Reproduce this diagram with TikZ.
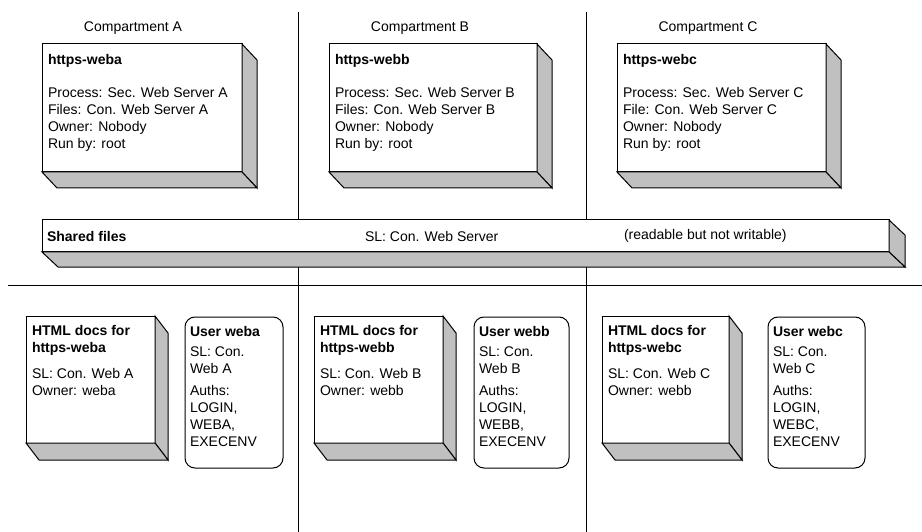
\documentclass[tikz,border=0pt]{standalone}
\usepackage{fontspec}
\setmainfont{Liberation Sans}
\definecolor{facegray}{RGB}{192,192,192}
\tikzset{
  every node/.style={font=\fontsize{14}{17}\selectfont, inner sep=0pt, outer sep=0pt},
  rule/.style={line width=1pt},
  frontface/.style={draw, line width=1pt, fill=white, rectangle, anchor=north west},
  depthface/.style={draw, line width=1pt, fill=facegray, line join=miter},
  blocktext/.style={anchor=north west, align=left},
  userbox/.style={draw, line width=1pt, fill=white, rounded corners=10pt, rectangle, anchor=north west},
}
% #1 name, #2 x, #3 y, #4 width, #5 height, #6 dx, #7 dy
\newcommand{\boxthreed}[7]{%
  \node[frontface, minimum width=#4pt, minimum height=#5pt] (#1) at (#2,#3) {};
  \draw[depthface] (#1.north east) -- ++(#6,#7) -- ([shift={(#6,#7)}]#1.south east) -- (#1.south east) -- cycle;
  \draw[depthface] (#1.south west) -- ([shift={(#6,#7)}]#1.south west) -- ([shift={(#6,#7)}]#1.south east) -- (#1.south east) -- cycle;
}
\begin{document}
\begin{tikzpicture}[x=1pt,y=-1pt]
\useasboundingbox (0,0) rectangle (922,532);
% separator lines
\coordinate (v1t) at (298,12); \coordinate (v1b) at (298,532);
\coordinate (v2t) at (586,12); \coordinate (v2b) at (586,532);
\coordinate (hl) at (8,285); \coordinate (hr) at (922,285);
\draw[rule] (v1t) -- (v1b);
\draw[rule] (v2t) -- (v2b);
\draw[rule] (hl) -- (hr);
% compartment titles
\node (cA) at (133,28) {Compartment A};
\node (cB) at (420,28) {Compartment B};
\node (cC) at (708,28) {Compartment C};
% top process boxes
\boxthreed{pA}{42}{44}{200}{128}{15}{16}
\boxthreed{pB}{329}{44}{208}{128}{15}{16}
\boxthreed{pC}{617}{44}{209}{128}{15}{16}
\node[blocktext] (tA) at ([shift={(6,8.5)}]pA.north west) {\strut\textbf{https-weba}\\[16pt]Process: Sec. Web Server A\\Files: Con. Web Server A\\Owner: Nobody\\Run by: root};
\node[blocktext] (tB) at ([shift={(6,8.5)}]pB.north west) {\strut\textbf{https-webb}\\[16pt]Process: Sec. Web Server B\\Files: Con. Web Server B\\Owner: Nobody\\Run by: root};
\node[blocktext] (tC) at ([shift={(6,8.5)}]pC.north west) {\strut\textbf{https-webc}\\[16pt]Process: Sec. Web Server C\\File: Con. Web Server C\\Owner: Nobody\\Run by: root};
% shared files
\boxthreed{sh}{42}{220}{847}{32}{16}{15}
\node[anchor=west] (sh1) at ([xshift=5pt]sh.west) {\textbf{Shared files}};
\node[anchor=west] (sh2) at (365,236) {SL: Con. Web Server};
\node[anchor=west] (sh3) at (624,236) {(readable but not writable)};
% HTML doc boxes
\boxthreed{hA}{26}{316}{129}{127}{13}{17}
\boxthreed{hB}{314}{316}{129}{127}{13}{17}
\boxthreed{hC}{602}{316}{127}{127}{13}{17}
\node[blocktext] (thA) at ([shift={(6,7.6)}]hA.north west) {\strut\textbf{HTML docs for}\\\textbf{https-weba}\\[9pt]SL: Con. Web A\\Owner: weba};
\node[blocktext] (thB) at ([shift={(6,7.6)}]hB.north west) {\strut\textbf{HTML docs for}\\\textbf{https-webb}\\[9pt]SL: Con. Web B\\Owner: webb};
\node[blocktext] (thC) at ([shift={(6,7.6)}]hC.north west) {\strut\textbf{HTML docs for}\\\textbf{https-webc}\\[9pt]SL: Con. Web C\\Owner: webb};
% user boxes
\node[userbox, minimum width=98pt, minimum height=151pt] (uA) at (185,317) {};
\node[userbox, minimum width=95pt, minimum height=151pt] (uB) at (474,317) {};
\node[userbox, minimum width=97pt, minimum height=151pt] (uC) at (768,317) {};
\node[blocktext] (tuA) at ([shift={(5,7.6)}]uA.north west) {\strut\textbf{User weba}\\[3pt]SL: Con.\\Web A\\[5pt]Auths:\\LOGIN,\\WEBA,\\EXECENV};
\node[blocktext] (tuB) at ([shift={(5,7.6)}]uB.north west) {\strut\textbf{User webb}\\[3pt]SL: Con.\\Web B\\[5pt]Auths:\\LOGIN,\\WEBB,\\EXECENV};
\node[blocktext] (tuC) at ([shift={(5,7.6)}]uC.north west) {\strut\textbf{User webc}\\[3pt]SL: Con.\\Web C\\[5pt]Auths:\\LOGIN,\\WEBC,\\EXECENV};
\end{tikzpicture}
\end{document}
